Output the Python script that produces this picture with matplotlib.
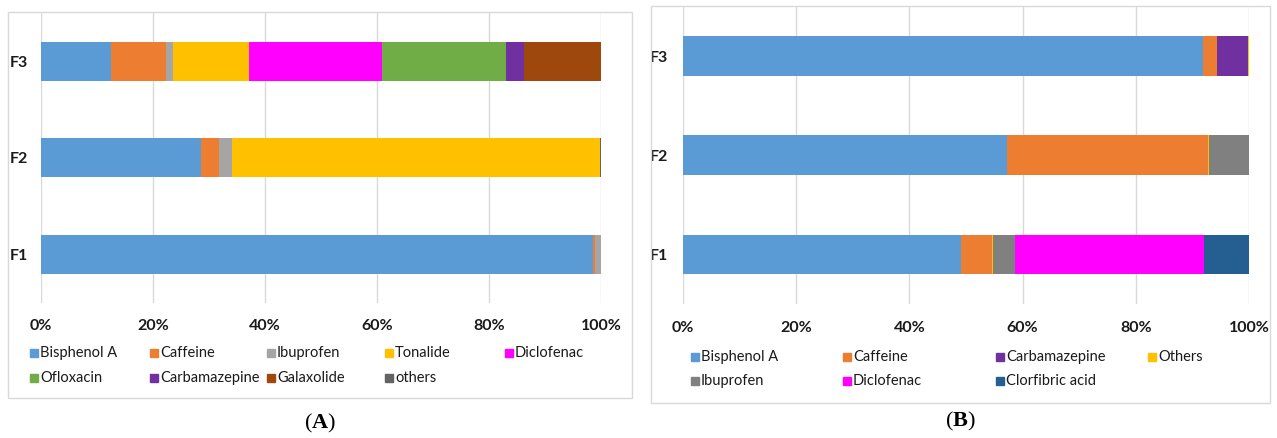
import numpy as np
import matplotlib
matplotlib.use("Agg")
import matplotlib.pyplot as plt
from matplotlib.patches import Rectangle

# dados (percentagens), ordem das categorias: F1, F2, F3
categorias = ["F1", "F2", "F3"]

nomes_a = ["Bisphenol A", "Caffeine", "Ibuprofen", "Tonalide", "Diclofenac",
           "Ofloxacin", "Carbamazepine", "Galaxolide", "others"]
cores_a = ["#5B9BD5", "#ED7D31", "#A5A5A5", "#FFC000", "#FF00FF",
           "#70AD47", "#7030A0", "#9E480E", "#636363"]
valores_a = [
    [98.5, 28.6, 12.5],   # Bisphenol A
    [0.4, 3.3, 9.9],      # Caffeine
    [1.1, 2.2, 1.3],      # Ibuprofen
    [0.0, 65.7, 13.4],    # Tonalide
    [0.0, 0.0, 23.8],     # Diclofenac
    [0.0, 0.0, 22.2],     # Ofloxacin
    [0.0, 0.0, 3.1],      # Carbamazepine
    [0.0, 0.0, 13.8],     # Galaxolide
    [0.0, 0.2, 0.0],      # others
]

nomes_b = ["Bisphenol A", "Caffeine", "Carbamazepine", "Others",
           "Ibuprofen", "Diclofenac", "Clorfibric acid"]
cores_b = ["#5B9BD5", "#ED7D31", "#7030A0", "#FFC000",
           "#808080", "#FF00FF", "#255E91"]
valores_b = [
    [49.2, 57.2, 91.9],   # Bisphenol A
    [5.4, 35.6, 2.5],     # Caffeine
    [0.0, 0.0, 5.5],      # Carbamazepine
    [0.2, 0.1, 0.1],      # Others
    [3.8, 7.1, 0.0],      # Ibuprofen
    [33.5, 0.0, 0.0],     # Diclofenac
    [7.9, 0.0, 0.0],      # Clorfibric acid
]

ticks_x = [0, 20, 40, 60, 80, 100]
rotulos_x = ["0%", "20%", "40%", "60%", "80%", "100%"]

W, H = 1277, 438
fig = plt.figure(figsize=(W / 100, H / 100), dpi=100)
plt.rcParams['mathtext.fontset'] = 'custom'
plt.rcParams['mathtext.rm'] = 'Liberation Serif'
plt.rcParams['mathtext.bf'] = 'Liberation Serif:bold'

fonte = "Lato"
cor_texto = "#1A1A1A"
cor_grade = "#D9D9D9"


def px(x, y):
    return x / W, 1 - y / H


def eixo(esq, dir, topo, baixo):
    return fig.add_axes([esq / W, 1 - baixo / H, (dir - esq) / W, (baixo - topo) / H])


def desenha(ax, nomes, cores, valores, pad_y):
    y = np.arange(len(categorias))
    acum = np.zeros(len(categorias))
    for nome, cor, vals in zip(nomes, cores, valores):
        ax.barh(y, vals, left=acum, height=0.4, color=cor, label=nome, zorder=3)
        acum += np.array(vals)
    ax.set_xlim(0, 100)
    ax.set_ylim(-0.5, 2.5)
    ax.set_xticks(ticks_x)
    ax.set_xticklabels(rotulos_x, fontfamily=fonte, fontweight="bold",
                       fontsize=11.5, color=cor_texto)
    ax.set_yticks(y)
    ax.set_yticklabels(categorias, fontfamily=fonte, fontweight="bold",
                       fontsize=11.5, color=cor_texto)
    ax.tick_params(axis="x", length=0, pad=12)
    ax.tick_params(axis="y", length=0, pad=pad_y)
    ax.grid(axis="x", color=cor_grade, linewidth=1, zorder=0)
    for s in ax.spines.values():
        s.set_visible(False)
    ax.set_facecolor("none")


def legenda(nomes, cores, xs, ys, ncol):
    for i, (nome, cor) in enumerate(zip(nomes, cores)):
        x = xs[i % ncol]
        yy = ys[i // ncol]
        fig.patches.append(Rectangle(px(x, yy + 4), 8 / W, 8 / H, color=cor,
                                     transform=fig.transFigure, figure=fig))
        fig.text(*px(x + 10, yy), nome, fontfamily=fonte, fontsize=10.5,
                 color=cor_texto, va="center", ha="left")


# molduras dos painéis
for (x0, y0, x1, y1) in [(8, 12, 632, 398), (651, 6, 1270, 403)]:
    fig.patches.append(Rectangle(px(x0, y1), (x1 - x0) / W, (y1 - y0) / H,
                                 fill=False, edgecolor=cor_grade, linewidth=1,
                                 transform=fig.transFigure, figure=fig))

ax_a = eixo(40.7, 601, 13, 302.5)
desenha(ax_a, nomes_a, cores_a, valores_a, pad_y=9)
legenda(nomes_a, cores_a, [30, 150, 267, 385, 505], [353, 378], 5)

ax_b = eixo(683, 1249, 6.5, 304)
desenha(ax_b, nomes_b, cores_b, valores_b, pad_y=11)
legenda(nomes_b, cores_b, [691, 843, 996, 1148], [357, 381], 4)

fig.text(*px(320, 423), r"($\mathbf{A}$)", fontfamily="Liberation Serif",
         fontsize=16, ha="center", va="center", color="black")
fig.text(*px(960, 421), r"($\mathbf{B}$)", fontfamily="Liberation Serif",
         fontsize=16, ha="center", va="center", color="black")

fig.savefig("out.png", dpi=100)
